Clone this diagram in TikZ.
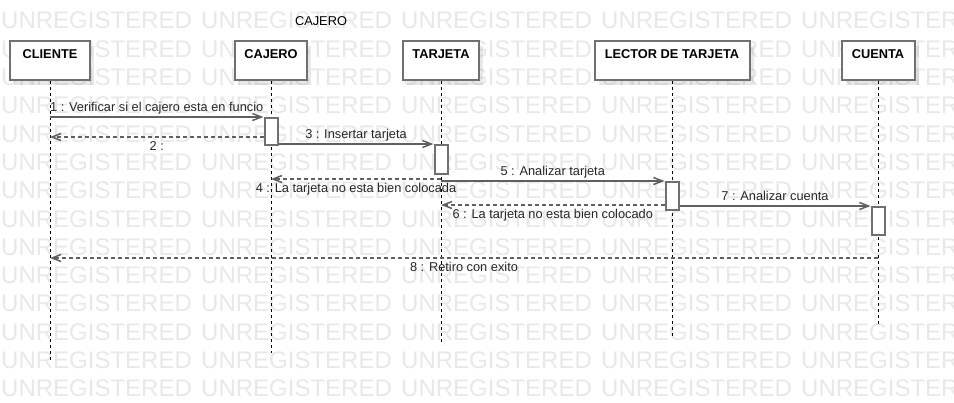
\documentclass[tikz,border=0pt]{standalone}
\usepackage{fontspec}
\setmainfont{Liberation Sans}
\usetikzlibrary{graphs}
\usetikzlibrary{quotes}
\usetikzlibrary{arrows.meta}
\usetikzlibrary{shadows}
\definecolor{wmgray}{RGB}{232,232,232}
\definecolor{boxgray}{RGB}{112,112,112}
\definecolor{msggray}{RGB}{96,96,96}
\tikzset{
  actor/.style= {draw=boxgray, line width=2pt, fill=white, minimum height=39pt, inner sep=0pt,
    drop shadow={shadow xshift=4pt, shadow yshift=-5pt, opacity=.18, fill=gray}},
  lbl/.style= {anchor=north, yshift=-9pt, inner sep=0pt, font=\fontsize{12.8}{15}\selectfont\bfseries},
  act/.style= {draw=boxgray, line width=2pt, fill=white, minimum width=13pt, inner sep=0pt},
  life/.style= {line width=1pt, dash pattern=on 3pt off 3pt},
  call/.style= {msggray, line width=1.5pt},
  ret/.style= {msggray, line width=1.5pt, dash pattern=on 4pt off 3pt},
  up/.style= {anchor=base, yshift=6pt, text=black!85, inner sep=0pt},
  dn/.style= {anchor=base, yshift=-13.5pt, text=black!85, inner sep=0pt},
  wm/.style= {text=wmgray, font=\fontsize{24}{24}\selectfont, anchor=west, inner sep=0pt},
}

\begin{document}
\begin{tikzpicture}[x=1pt, y=-1pt, font=\fontsize{12.8}{15}\selectfont,
    >={Straight Barb[length=9pt, width=7pt]}]
  \useasboundingbox (0,0) rectangle (954,402);
  \begin{scope}
    \clip (0,0) rectangle (954,402);
    \foreach \r in {0,...,13}
      \foreach \c in {0,...,4}
        \node [wm] (wm-\r-\c) at (1+200*\c, 20.7+28.3*\r) {UNREGISTERED};
  \end{scope}

  \node (title) at (321,21) {CAJERO};

  \node [actor, minimum width=80pt, label={[lbl]north:CLIENTE}] (cliente) at (50,60.5) {};
  \node [actor, minimum width=72pt, label={[lbl]north:CAJERO}] (cajero) at (271,60.5) {};
  \node [actor, minimum width=76pt, label={[lbl]north:TARJETA}] (tarjeta) at (441,60.5) {};
  \node [actor, minimum width=155pt, label={[lbl]north:LECTOR DE TARJETA}] (lector) at (672,60.5) {};
  \node [actor, minimum width=73pt, label={[lbl]north:CUENTA}] (cuenta) at (878,60.5) {};

  \draw [life] (cliente.south) -- (cliente |- 0,360);
  \draw [life] (cajero.south) -- (cajero |- 0,353);
  \draw [life] (tarjeta.south) -- (tarjeta |- 0,345);
  \draw [life] (lector.south) -- (lector |- 0,338);
  \draw [life] (cuenta.south) -- (cuenta |- 0,325);

  \node [act, minimum height=27pt] (a1) at (271,131.5) {};
  \node [act, minimum height=29pt] (a2) at (441,159.5) {};
  \node [act, minimum height=28pt] (a3) at (672,196) {};
  \node [act, minimum height=28pt] (a4) at (878,221) {};

  \coordinate (c1) at (cliente |- a1.north);
  \coordinate (k1) at (a1.north west);
  \coordinate (c2) at (cliente |- 0,137);
  \coordinate (k2) at (a1.west |- c2);
  \coordinate (k3) at (a1.east |- a2.north);
  \coordinate (t3) at (a2.north west);
  \coordinate (k4) at (cajero |- 0,179);
  \coordinate (t4) at (tarjeta |- k4);
  \coordinate (t5) at (tarjeta |- a3.north);
  \coordinate (l5) at (a3.north west);
  \coordinate (l6) at (a3.west |- 0,205);
  \coordinate (t6) at (tarjeta |- l6);
  \coordinate (l7) at (a3.east |- a4.north);
  \coordinate (u7) at (a4.north west);
  \coordinate (u8) at (cuenta |- 0,258);
  \coordinate (c8) at (cliente |- u8);

  \graph {
    (c1) ->[call, "1 : Verificar si el cajero esta en funcio" up] (k1);
    (k2) ->[ret, "2 :" dn] (c2);
    (k3) ->[call, "3 : Insertar tarjeta" up] (t3);
    (t4) ->[ret, "4 : La tarjeta no esta bien colocada" dn] (k4);
    (t5) ->[call, "5 : Analizar tarjeta" up] (l5);
    (l6) ->[ret, "6 : La tarjeta no esta bien colocado" dn] (t6);
    (l7) ->[call, "7 : Analizar cuenta" up] (u7);
    (u8) ->[ret, "8 : Retiro con exito" dn] (c8);
  };
\end{tikzpicture}
\end{document}
